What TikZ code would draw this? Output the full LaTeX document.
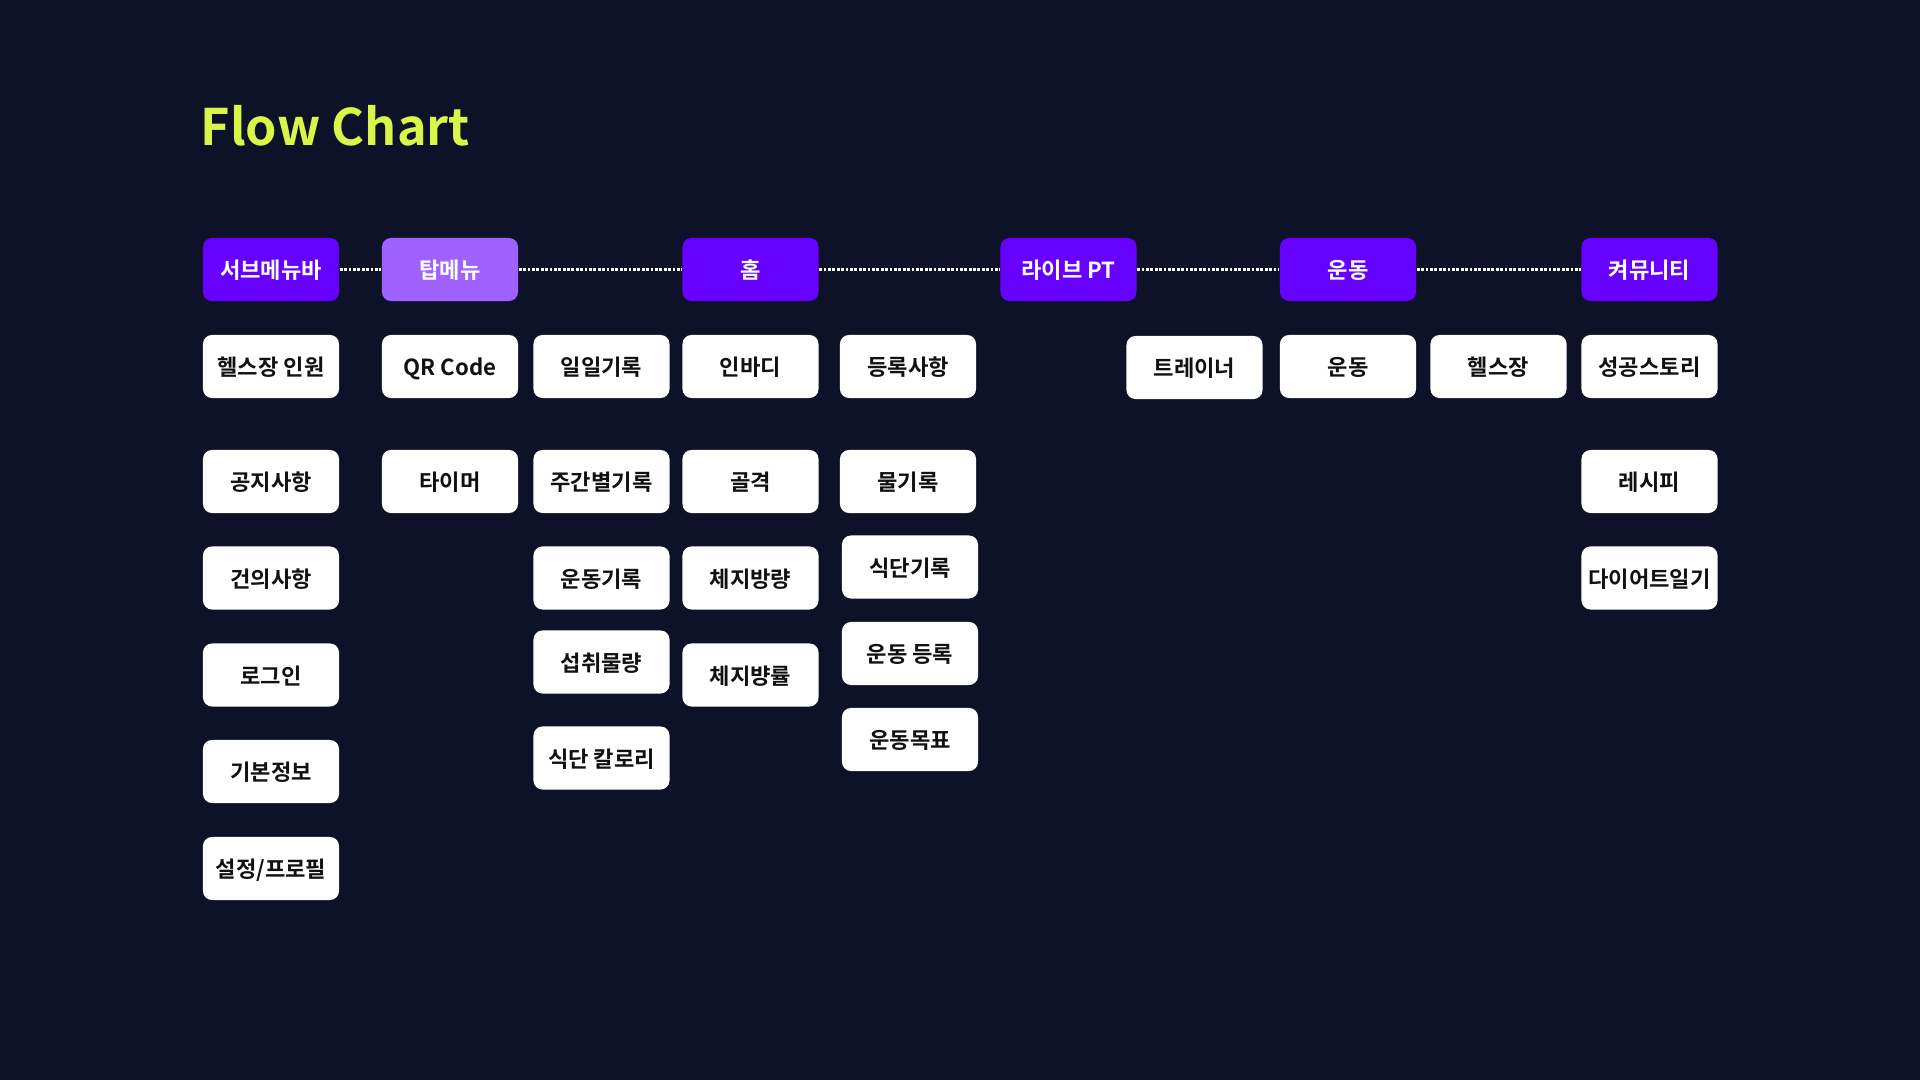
\documentclass[tikz,border=0pt]{standalone}
\usepackage{fontspec}
\setmainfont{Noto Sans CJK KR}[BoldFont={Noto Sans CJK KR Bold}]
\usepackage{tikz}
\usetikzlibrary{positioning}
\definecolor{bgc}{HTML}{0E1229}
\definecolor{titlec}{HTML}{DAF54A}
\definecolor{headc}{HTML}{6600FF}
\definecolor{headlight}{HTML}{A062FF}
\definecolor{labelc}{HTML}{111111}
\tikzset{
  head/.style={fill=headc, text=white, rounded corners=0.09cm, inner sep=0pt,
    minimum width=1.36cm, minimum height=0.63cm, text depth=0pt,
    font=\bfseries\fontsize{6.3}{7}\selectfont},
  leaf/.style={head, fill=white, text=labelc},
  link/.style={white, line width=0.85pt, dash pattern=on 0.8pt off 0.45pt}
}
\newcommand{\leafbox}[4]{%
  \node[leaf] (#1) at (#2,#3) {#4};
}

\begin{document}
\begin{tikzpicture}[x=0.01cm, y=-0.01cm]
  \fill[bgc] (0,0) rectangle (1920,1080);
  \useasboundingbox (0,0) rectangle (1920,1080);
  \node[anchor=base west, inner sep=0pt, text=titlec, font=\bfseries\fontsize{14.3}{16}\selectfont] (title) at (200,146) {Flow Chart};
  % top menu
  \node[head] (sub) at (271,269.5) {서브메뉴바};
  \node[head, fill=headlight] (top) at (450,269.5) {탑메뉴};
  \node[head] (home) at (750.5,269.5) {홈};
  \node[head] (live) at (1068.5,269.5) {라이브 PT};
  \node[head] (work) at (1348,269.5) {운동};
  \node[head] (comm) at (1649.5,269.5) {켜뮤니티};
  \draw[link] (sub) -- (top);
  \draw[link] (top) -- (home);
  \draw[link] (home) -- (live);
  \draw[link] (live) -- (work);
  \draw[link] (work) -- (comm);
  % sub menu
  \leafbox{gymcount}{271}{366.5}{헬스장 인원}
  \leafbox{notice}{271}{481.5}{공지사항}
  \leafbox{suggest}{271}{578}{건의사항}
  \leafbox{login}{271}{675}{로그인}
  \leafbox{basic}{271}{771.5}{기본정보}
  \leafbox{profile}{271}{868.5}{설정/프로필}
  \leafbox{qr}{450}{366.5}{QR Code}
  \leafbox{timer}{450}{481.5}{타이머}
  % home
  \leafbox{daily}{601.5}{366.5}{일일기록}
  \leafbox{weekly}{601.5}{481.5}{주간별기록}
  \leafbox{exlog}{601.5}{578}{운동기록}
  \leafbox{intake}{601.5}{662}{섭취물량}
  \leafbox{kcal}{601.5}{758}{식단 칼로리}
  \leafbox{inbody}{750.5}{366.5}{인바디}
  \leafbox{bone}{750.5}{481.5}{골격}
  \leafbox{fatmass}{750.5}{578}{체지방량}
  \leafbox{fatrate}{750.5}{675}{체지뱡률}
  \leafbox{regist}{908}{366.5}{등록사항}
  \leafbox{water}{908}{481.5}{물기록}
  \leafbox{meal}{910}{567}{식단기록}
  \leafbox{exreg}{910}{653.5}{운동 등록}
  \leafbox{goal}{910}{739.5}{운동목표}
  % live pt, workout, community
  \leafbox{trainer}{1194.5}{367.5}{트레이너}
  \leafbox{exer}{1348}{366.5}{운동}
  \leafbox{gym}{1498.5}{366.5}{헬스장}
  \leafbox{story}{1649.5}{366.5}{성공스토리}
  \leafbox{recipe}{1649.5}{481.5}{레시피}
  \leafbox{diary}{1649.5}{578}{다이어트일기}
\end{tikzpicture}
\end{document}
